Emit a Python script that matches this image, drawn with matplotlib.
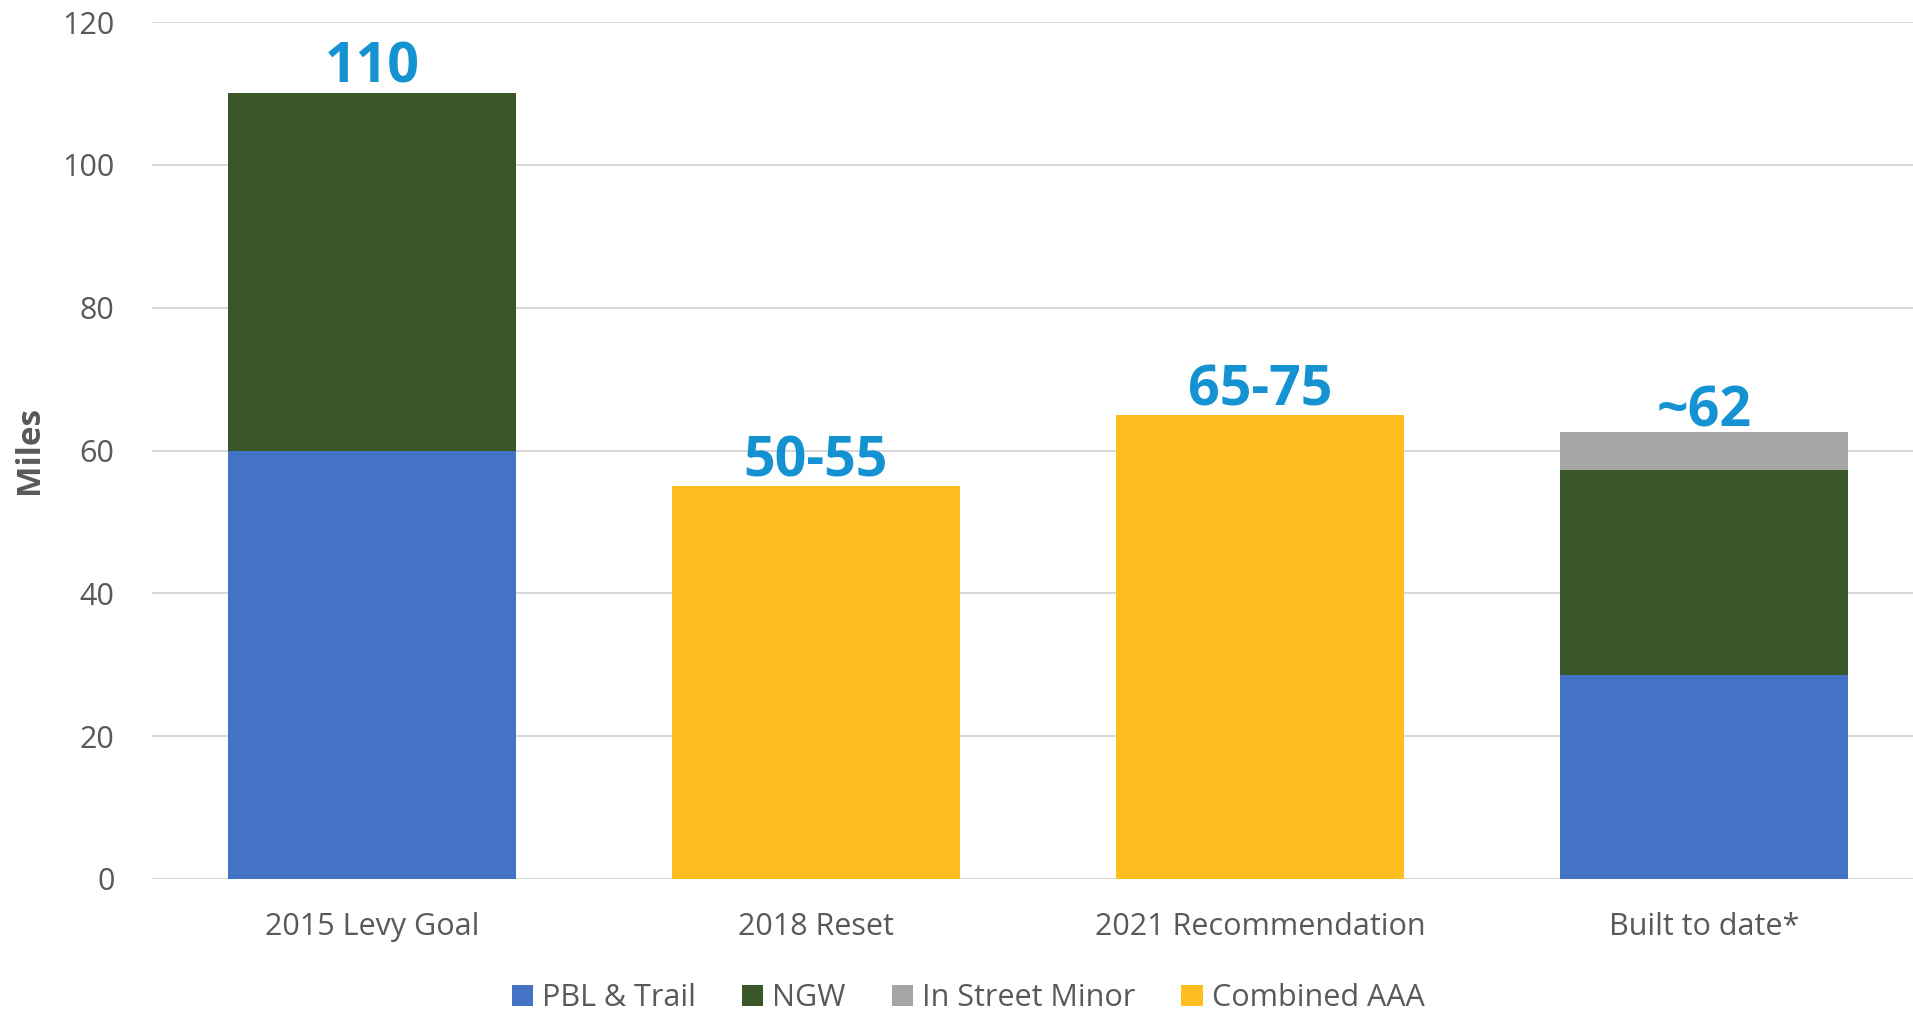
import matplotlib
matplotlib.use("Agg")
import matplotlib.pyplot as plt
import numpy as np

categories = ["2015 Levy Goal", "2018 Reset", "2021 Recommendation", "Built to date*"]
series_names = ["PBL & Trail", "NGW", "In Street Minor", "Combined AAA"]
pbl_trail = [60, 0, 0, 28.6]
ngw = [50, 0, 0, 28.6]
in_street_minor = [0, 0, 0, 5.4]
combined_aaa = [0, 55, 65, 0]
top_labels = ["110", "50-55", "65-75", "~62"]
y_ticks = [0, 20, 40, 60, 80, 100, 120]

colors = ["#4472C4", "#3A5729", "#A5A5A5", "#FDBE1F"]
label_color = "#1592D1"
text_gray = "#595959"
label_offsets_px = [11, 10, 9.5, 5]

plt.rcParams['font.family'] = ['Open Sans', 'DejaVu Sans']

fig = plt.figure(figsize=(19.13, 10.10), dpi=100)
ax = fig.add_axes([152/1913, 1 - 879/1010, 1 - 152/1913, (879 - 22)/1010])

x = np.arange(len(categories))
width = 0.648
series = [pbl_trail, ngw, in_street_minor, combined_aaa]
bottom = np.zeros(len(categories))
handles = []
for name, vals, c in zip(series_names, series, colors):
    vals = np.array(vals, dtype=float)
    b = ax.bar(x, vals, width, bottom=bottom, color=c, label=name, zorder=3)
    handles.append(b)
    bottom += vals

totals = bottom
for xi, tot, lab, off in zip(x, totals, top_labels, label_offsets_px):
    ax.annotate(lab, (xi, tot), xytext=(0, off * 72 / 100), textcoords="offset points",
                ha="center", va="baseline", fontsize=40, fontweight="bold",
                color=label_color, zorder=5)

ax.set_ylim(0, 120)
ax.set_xlim(-0.495, 3.47)
ax.set_yticks(y_ticks)
ax.set_xticks(x)
ax.set_xticklabels(categories)
ax.tick_params(axis="both", length=0, labelsize=22, labelcolor=text_gray)
ax.tick_params(axis="y", pad=27)
ax.tick_params(axis="x", pad=24)
ax.yaxis.grid(True, color="#D9D9D9", linewidth=1.5, zorder=0)
ax.set_axisbelow(True)
for s in ax.spines.values():
    s.set_visible(False)
ax.set_ylabel("Miles", fontsize=24, fontweight="bold", color=text_gray)
ax.yaxis.set_label_coords(-0.0600, 0.5)

fig.legend(handles=handles, labels=series_names, loc="center", bbox_to_anchor=(968/1913, 1 - 998/1010),
           ncol=4, frameon=False, fontsize=22, labelcolor=text_gray,
           handlelength=0.7, handleheight=0.7, handletextpad=0.3, columnspacing=1.5)

fig.savefig("out.png", dpi=100)
